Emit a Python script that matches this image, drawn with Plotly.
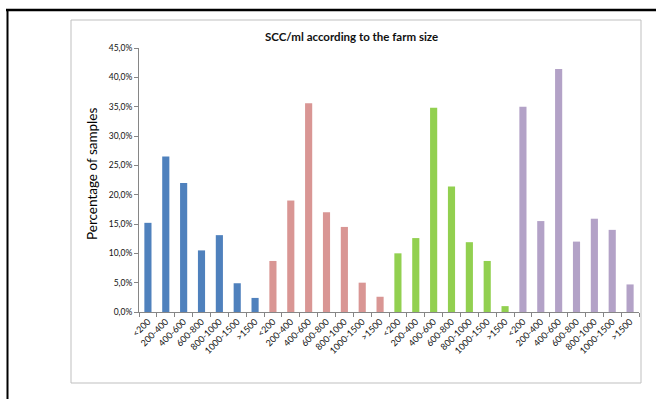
import plotly.graph_objects as go

# SCC classes (cells/ml, thousands) repeated for each farm-size group
scc_classes = ["<200", "200-400", "400-600", "600-800", "800-1000", "1000-1500", ">1500"]

# Share of samples (%) per SCC class, one list per farm-size group
group_1 = [15.2, 26.5, 22.0, 10.5, 13.1, 4.9, 2.4]
group_2 = [8.7, 19.0, 35.6, 17.0, 14.5, 5.0, 2.6]
group_3 = [10.0, 12.6, 34.8, 21.4, 11.9, 8.7, 1.0]
group_4 = [35.0, 15.5, 41.4, 12.0, 15.9, 14.0, 4.7]

groups = [group_1, group_2, group_3, group_4]
colors = ["#4F81BD", "#D99694", "#92D050", "#B3A2C7"]

W, H = 656, 399
L, R, T, B = 139, 17, 48, 87
PW, PH = W - L - R, H - T - B


def px_x(p):
    return (p - L) / PW


def px_y(p):
    return (H - B - p) / PH


fig = go.Figure()
n = len(scc_classes)
for gi, (vals, col) in enumerate(zip(groups, colors)):
    fig.add_trace(go.Bar(
        x=[gi * n + k for k in range(n)],
        y=[v / 100 for v in vals],
        marker=dict(color=col, line=dict(width=0)),
        showlegend=False,
        hovertemplate="%{y:.1%}<extra></extra>",
    ))

tick_text = scc_classes * len(groups)
axis_col = "#868686"
font_fam = "Lato, Open Sans, sans-serif"

fig.update_layout(
    width=W, height=H,
    margin=dict(l=L, r=R, t=T, b=B),
    paper_bgcolor="white", plot_bgcolor="white",
    separators=", ",
    bargap=0.6,
    font=dict(family=font_fam, color="#111111"),
    xaxis=dict(
        range=[-0.5, n * len(groups) - 0.5],
        tickmode="array",
        tickvals=list(range(n * len(groups))),
        ticktext=tick_text,
        tickangle=-45,
        ticks="",
        tickfont=dict(size=9, family=font_fam, color="#111111"),
        showline=True, linecolor=axis_col, linewidth=1,
        showgrid=False, zeroline=False,
        minor=dict(tick0=-0.5, dtick=1, ticks="outside", ticklen=4,
                   tickcolor=axis_col, tickwidth=1, showgrid=False),
        fixedrange=True,
    ),
    yaxis=dict(
        range=[0, 0.45],
        tickmode="linear", tick0=0, dtick=0.05,
        tickformat=".1%",
        ticks="outside", ticklen=4, tickcolor=axis_col, tickwidth=1,
        tickfont=dict(size=8.5, family=font_fam, color="#111111"),
        showline=True, linecolor=axis_col, linewidth=1,
        showgrid=False, zeroline=False,
        fixedrange=True,
    ),
    annotations=[
        dict(text="<b>SCC/ml according to the farm size</b>",
             xref="paper", yref="paper", x=px_x(351), y=px_y(37),
             xanchor="center", yanchor="middle", showarrow=False,
             font=dict(size=11.5, family=font_fam, color="#111111")),
        dict(text="Percentage of samples",
             xref="paper", yref="paper", x=px_x(92), y=px_y(174),
             xanchor="center", yanchor="middle", showarrow=False, textangle=-90,
             font=dict(size=13.5, family=font_fam, color="#000000")),
    ],
    shapes=[
        # outer chart-area box
        dict(type="rect", xref="paper", yref="paper",
             x0=px_x(71), x1=px_x(641), y0=px_y(383), y1=px_y(20),
             line=dict(color="#BFBFBF", width=1), layer="below"),
        # black frame, top and left edges
        dict(type="line", xref="paper", yref="paper",
             x0=px_x(6), x1=px_x(660), y0=px_y(10), y1=px_y(10),
             line=dict(color="black", width=2.5)),
        dict(type="line", xref="paper", yref="paper",
             x0=px_x(7.5), x1=px_x(7.5), y0=px_y(9), y1=px_y(405),
             line=dict(color="black", width=2)),
    ],
)

fig.write_html("out.html")
